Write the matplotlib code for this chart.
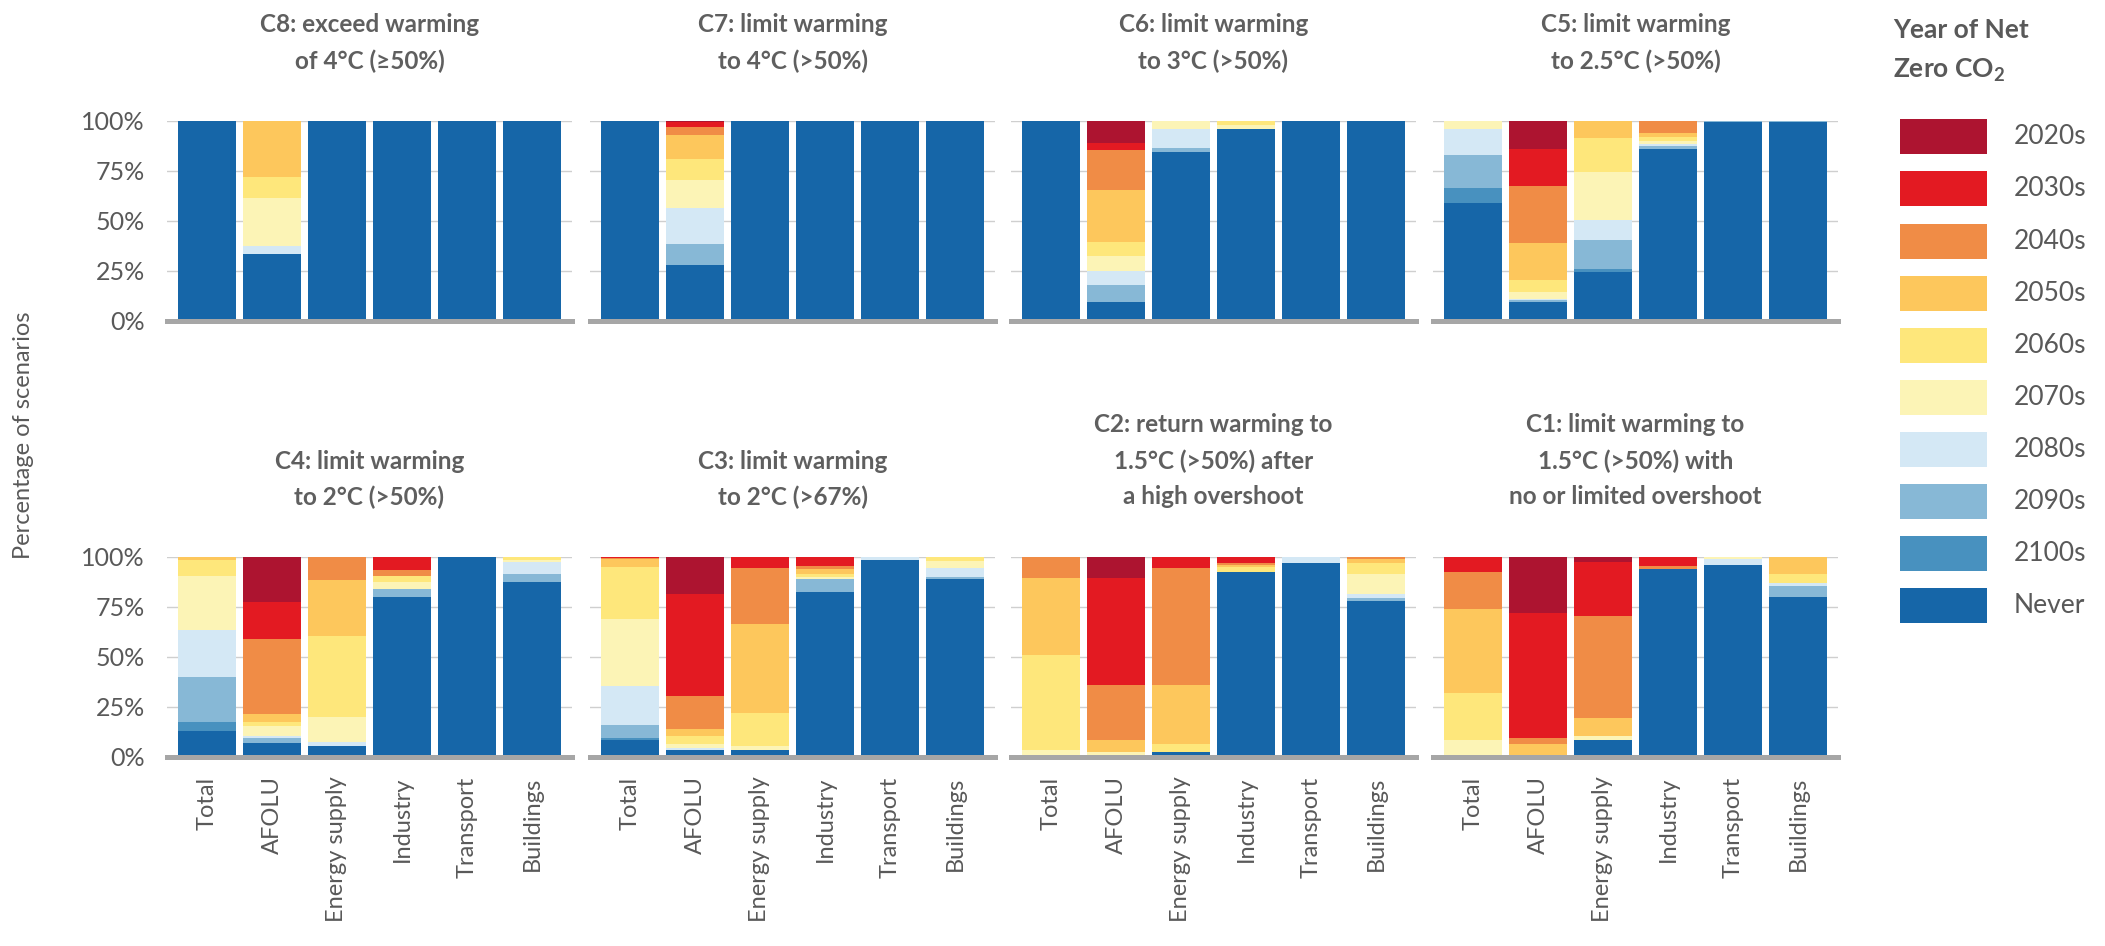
import numpy as np
import matplotlib
matplotlib.use("Agg")
import matplotlib.pyplot as plt

plt.rcParams['font.family'] = ['Lato', 'DejaVu Sans']

# === Data (percent of scenarios, legend order) ===
decades = ["2020s", "2030s", "2040s", "2050s", "2060s",
           "2070s", "2080s", "2090s", "2100s", "Never"]
colors = ["#ad1430", "#e31a22", "#f08c46", "#fdc75c", "#fee77b",
          "#fcf4b6", "#d4e8f5", "#87b8d6", "#4891bf", "#1666a8"]
sectors = ["Total", "AFOLU", "Energy supply", "Industry", "Transport", "Buildings"]

c8 = [[0, 0, 0, 0, 0, 0, 0, 0, 0, 100],
      [0, 0, 0, 28, 10.5, 24.2, 3.7, 0, 0, 33.6],
      [0, 0, 0, 0, 0, 0, 0, 0, 0, 100],
      [0, 0, 0, 0, 0, 0, 0, 0, 0, 100],
      [0, 0, 0, 0, 0, 0, 0, 0, 0, 100],
      [0, 0, 0, 0, 0, 0, 0, 0, 0, 100]]
c7 = [[0, 0, 0, 0, 0, 0, 0, 0, 0, 100],
      [0.5, 2.5, 4.2, 11.8, 10.7, 13.7, 18, 10.7, 0, 27.9],
      [0, 0, 0, 0, 0, 0, 0, 0, 0, 100],
      [0, 0, 0, 0, 0, 0, 0, 0, 0, 100],
      [0, 0, 0, 0, 0, 0, 0, 0, 0, 100],
      [0, 0, 0, 0, 0, 0, 0, 0, 0, 100]]
c6 = [[0, 0, 0, 0, 0, 0, 0, 0, 0, 100],
      [11, 3.7, 20, 25.7, 7.3, 7.3, 7.2, 8.3, 0, 9.5],
      [0, 0, 0, 0, 0, 4.2, 9.3, 2, 0, 84.5],
      [0, 0, 0, 0, 2.2, 1.8, 0, 0, 0, 96],
      [0, 0, 0, 0, 0, 0, 0, 0, 0, 100],
      [0, 0, 0, 0, 0, 0, 0, 0, 0, 100]]
c5 = [[0, 0, 0, 0, 0, 3.8, 13.3, 16.5, 7.2, 59.2],
      [14.2, 18.3, 28.3, 18.8, 5.8, 3.5, 0.6, 1.2, 0, 9.3],
      [0, 0, 0, 8.3, 17.2, 23.8, 10.3, 14.5, 1.3, 24.6],
      [0, 0, 6, 2, 2, 1.3, 1, 1.7, 0, 86],
      [0, 0, 0, 0, 0, 0, 0, 0.7, 0, 99.3],
      [0, 0, 0, 0, 0, 0, 0, 0.7, 0, 99.3]]
c4 = [[0, 0, 0, 1.7, 8, 26.6, 23.6, 22.4, 4.5, 13.2],
      [22.4, 18.6, 37.4, 4.3, 1.7, 5.3, 0.7, 2.7, 0, 6.9],
      [0, 0, 11.6, 27.9, 40.7, 12.5, 1.7, 0, 0, 5.6],
      [0, 6.6, 3, 0, 2.8, 3.7, 0, 3.8, 0, 80.1],
      [0, 0, 0, 0, 0, 0, 0, 0, 0, 100],
      [0, 0, 0, 0, 1.7, 0.8, 5.8, 4.2, 0, 87.5]]
c3 = [[0, 0.3, 0.8, 3.8, 26.2, 33.6, 19.1, 6.5, 1.3, 8.4],
      [18.6, 51, 16.3, 3.5, 4, 2.2, 0.8, 0, 0, 3.6],
      [0, 5.3, 28.4, 44.4, 16.6, 1.7, 0, 0, 0, 3.6],
      [0, 4.6, 1.2, 2.5, 1.7, 1.2, 0, 6.3, 0, 82.5],
      [0, 0, 0, 0, 0, 0, 1.3, 0, 0, 98.7],
      [0, 0, 0, 0, 2, 3.7, 4.3, 1, 0, 89]]
c2 = [[0, 0, 10.5, 38.5, 47.3, 3.2, 0.5, 0, 0, 0],
      [10.5, 53.5, 27.6, 6, 0, 1.2, 0, 1.2, 0, 0],
      [0, 5.5, 58.6, 29.2, 4.3, 0, 0, 0, 0, 2.4],
      [0, 3, 0.8, 1.2, 2.7, 0, 0, 0, 0, 92.3],
      [0, 0, 0, 0, 0, 0, 3, 0, 0, 97],
      [0, 0, 0.8, 2.2, 5.3, 10.3, 1.7, 1.8, 0, 77.9]]
c1 = [[0, 7.3, 18.8, 41.7, 23.9, 7.6, 0.7, 0, 0, 0],
      [28.2, 62.3, 2.8, 5.5, 0, 1.2, 0, 0, 0, 0],
      [2.5, 27.1, 51, 8.8, 0, 2.2, 0, 0, 0, 8.4],
      [0, 4.3, 1.8, 0, 0, 0, 0, 0, 0, 93.9],
      [0, 0, 0, 0, 0, 0.8, 3.4, 0, 0, 95.8],
      [0, 0, 0, 8.3, 4.5, 0, 1.8, 5.3, 0, 80.1]]

titles = ["C8: exceed warming\nof 4°C (≥50%)",
          "C7: limit warming\nto 4°C (>50%)",
          "C6: limit warming\nto 3°C (>50%)",
          "C5: limit warming\nto 2.5°C (>50%)",
          "C4: limit warming\nto 2°C (>50%)",
          "C3: limit warming\nto 2°C (>67%)",
          "C2: return warming to\n1.5°C (>50%) after\na high overshoot",
          "C1: limit warming to\n1.5°C (>50%) with\nno or limited overshoot"]
panel_data = [c8, c7, c6, c5, c4, c3, c2, c1]

# === Layout (pixels) ===
W, H = 2105, 946
lefts = [167, 590, 1011, 1433]
tops = [121, 557]
aw, ah = 405, 200
txt = "#595959"

fig = plt.figure(figsize=(W / 100, H / 100), dpi=100)

for i, (title, data) in enumerate(zip(titles, panel_data)):
    row, col = divmod(i, 4)
    l, t = lefts[col], tops[row]
    ax = fig.add_axes([l / W, 1 - (t + ah) / H, aw / W, ah / H])
    vals = np.array(data, dtype=float)
    x = np.arange(len(sectors))
    bottom = np.zeros(len(sectors))
    # stack from "Never" at the bottom up to 2020s
    for k in range(len(decades) - 1, -1, -1):
        ax.bar(x, vals[:, k], 0.89, bottom=bottom, color=colors[k],
               linewidth=0, zorder=2)
        bottom += vals[:, k]

    ax.set_xlim(-0.615, 5.615)
    ax.set_ylim(0, 100)
    ax.set_yticks([0, 25, 50, 75, 100])
    ax.yaxis.grid(True, color="#cfcfcf", linewidth=1)
    ax.set_axisbelow(True)
    for s in ["top", "right", "left"]:
        ax.spines[s].set_visible(False)
    ax.spines["bottom"].set_color("#a6a6a6")
    ax.spines["bottom"].set_linewidth(3.6)
    ax.spines["bottom"].set_zorder(3)
    ax.tick_params(length=0, colors=txt, labelsize=18)

    if col == 0:
        ax.set_yticklabels(["0%", "25%", "50%", "75%", "100%"])
        ax.tick_params(axis="y", pad=16)
    else:
        ax.set_yticklabels([])
    ax.set_xticks(x)
    if row == 1:
        ax.set_xticklabels(sectors, rotation=90, fontsize=17)
        ax.tick_params(axis="x", pad=14)
    else:
        ax.set_xticklabels([])

    # panel title, lines stacked upward from above the axes
    cx = l + aw / 2
    lines = title.split("\n")
    for j, line in enumerate(reversed(lines)):
        fig.text(cx / W, 1 - (t - 60 - 36 * j) / H, line, ha="center",
                 va="center", fontsize=17.5, fontweight="bold", color="#5f5f5f")

fig.text(24 / W, 1 - 435 / H, "Percentage of scenarios", rotation=90,
         ha="center", va="center", fontsize=17, color=txt)

# === Legend ===
fig.text(1893 / W, 1 - 30 / H, "Year of Net", ha="left", va="center",
         fontsize=19, fontweight="bold", color=txt)
fig.text(1893 / W, 1 - 70 / H, "Zero CO$_\\mathregular{2}$", ha="left", va="center",
         fontsize=19, fontweight="bold", color=txt)
lax = fig.add_axes([0, 0, 1, 1])
lax.set_xlim(0, W)
lax.set_ylim(H, 0)
lax.axis("off")
for k, (name, c) in enumerate(zip(decades, colors)):
    yc = 137 + 52 * k
    lax.add_patch(plt.Rectangle((1900, yc - 17.5), 87, 35, color=c, linewidth=0))
    lax.text(2014, yc, name, ha="left", va="center", fontsize=19, color=txt)

fig.savefig("out.png", dpi=100)
